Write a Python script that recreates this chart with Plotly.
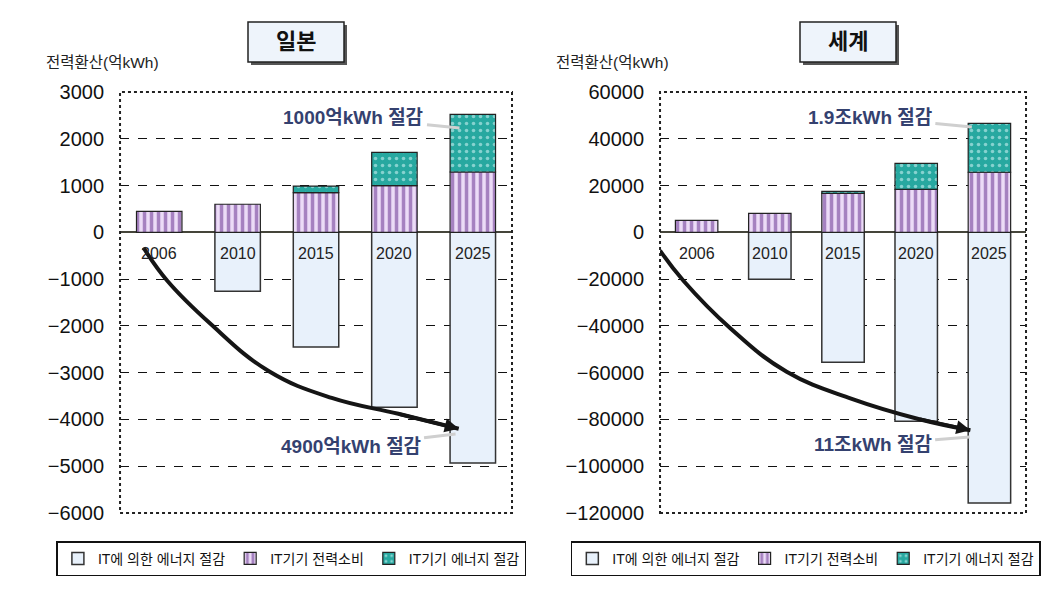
import plotly.graph_objects as go

years = ["2006", "2010", "2015", "2020", "2025"]

# Japan (억kWh)
jp_saving_by_it = [None, -1260, -2450, -3740, -4930]
jp_it_power = [450, 600, 850, 1000, 1290]
jp_it_saving = [None, None, 140, 710, 1230]
jp_curve_x = [-0.2, 0.1, 0.65, 1.4, 2.2, 3.05, 3.82]
jp_curve_y = [-330, -1030, -1950, -2970, -3540, -3880, -4200]

# World (억kWh)
w_saving_by_it = [None, -20100, -55500, -80800, -115700]
w_it_power = [5100, 8100, 16700, 18400, 25700]
w_it_saving = [None, None, 800, 11100, 20900]
w_curve_x = [-0.5, -0.18, 0.46, 1.23, 2.12, 3.03, 3.74]
w_curve_y = [-7800, -20700, -41000, -59600, -71200, -79800, -84600]

jp_ticks = [3000, 2000, 1000, 0, -1000, -2000, -3000, -4000, -5000, -6000]
w_ticks = [60000, 40000, 20000, 0, -20000, -40000, -60000, -80000, -100000, -120000]

names = ["IT에 의한 에너지 절감", "IT기기 전력소비", "IT기기 에너지 절감"]
FONT = "Liberation Sans, Arial, Noto Sans CJK KR"
xs = list(range(len(years)))

fig = go.Figure()

def add_panel(sfx, leg, neg, pos, top, cx, cy):
    xa, ya = "x" + sfx, "y" + sfx
    fig.add_trace(go.Bar(x=xs, y=neg, name=names[0], xaxis=xa, yaxis=ya, legend=leg,
                         width=0.58, marker=dict(color="#e8f1fb", line=dict(color="#333333", width=1.5))))
    fig.add_trace(go.Bar(x=xs, y=pos, name=names[1], xaxis=xa, yaxis=ya, legend=leg,
                         width=0.58, marker=dict(color="#e9d6f5", line=dict(color="#222222", width=1.2),
                                                 pattern=dict(shape="|", fgcolor="#5e2689", bgcolor="#ecdcf7",
                                                              size=7, solidity=0.5))))
    fig.add_trace(go.Bar(x=xs, y=top, name=names[2], xaxis=xa, yaxis=ya, legend=leg,
                         width=0.58, marker=dict(color="#2aa9a2", line=dict(color="#222222", width=1.2),
                                                 pattern=dict(shape=".", fgcolor="#e8fbff", bgcolor="#27a8a0",
                                                              size=7, solidity=0.2))))
    fig.add_trace(go.Scatter(x=cx, y=cy, mode="lines", xaxis=xa, yaxis=ya, showlegend=False,
                             line=dict(color="#151515", width=4, shape="spline", smoothing=1.2),
                             hoverinfo="skip"))
    fig.add_annotation(x=cx[-1], y=cy[-1], ax=cx[-2], ay=cy[-2], xref=xa, yref=ya,
                       axref=xa, ayref=ya, showarrow=True, arrowhead=2, arrowsize=0.8,
                       arrowwidth=3.5, arrowcolor="#151515", text="")
    for i, yr in enumerate(years):
        fig.add_annotation(x=i, y=0, xref=xa, yref=ya, text=yr, showarrow=False,
                           yanchor="top", yshift=-11, font=dict(size=16, color="#222222", family=FONT))

add_panel("", "legend", jp_saving_by_it, jp_it_power, jp_it_saving, jp_curve_x, jp_curve_y)
add_panel("2", "legend2", w_saving_by_it, w_it_power, w_it_saving, w_curve_x, w_curve_y)

# value labels with pointers
labels = [
    ("", "1000억kWh 절감", 3.83, 2230, -106, -11),
    ("", "4900억kWh 절감", 3.78, -4310, -105, 13),
    ("2", "1.9조kWh 절감", 3.76, 45000, -102, -10),
    ("2", "11조kWh 절감", 3.73, -87500, -97, 8),
]
for sfx, txt, x, y, ax, ay in labels:
    fig.add_annotation(x=x, y=y, xref="x" + sfx, yref="y" + sfx, text="<b>" + txt + "</b>",
                       ax=ax, ay=ay, showarrow=True, arrowhead=0, arrowwidth=3,
                       arrowcolor="#cfcfcf", standoff=0, startstandoff=2,
                       font=dict(size=19, color="#34416f", family=FONT))

axis_common = dict(showgrid=True, gridcolor="#111111", griddash="dash", gridwidth=1.3,
                   zeroline=True, zerolinecolor="#45453a", zerolinewidth=2, automargin=False,
                   tickformat="d", ticklabelstandoff=15,
                   tickfont=dict(size=20, color="#111111", family=FONT), ticks="", showline=False)
xcommon = dict(range=[-0.5, 4.5], showticklabels=False, showgrid=False, zeroline=False,
               showline=False, automargin=False)

legend_common = dict(orientation="h", y=0.067, xanchor="center", yanchor="middle",
                     bordercolor="#111111", borderwidth=1.5, bgcolor="white",
                     font=dict(size=14, color="#111111", family=FONT), itemwidth=30, tracegroupgap=0)

fig.update_layout(
    width=1052, height=599, margin=dict(l=0, r=0, t=0, b=0, autoexpand=False),
    paper_bgcolor="white", plot_bgcolor="white", barmode="relative",
    font=dict(family=FONT),
    xaxis=dict(domain=[0.1141, 0.4867], anchor="y", **xcommon),
    yaxis=dict(domain=[0.1436, 0.8464], anchor="x", range=[-6000, 3000], tickvals=jp_ticks, **axis_common),
    xaxis2=dict(domain=[0.6274, 0.9753], anchor="y2", **xcommon),
    yaxis2=dict(domain=[0.1436, 0.8464], anchor="x2", range=[-120000, 60000], tickvals=w_ticks, **axis_common),
    legend=dict(x=0.277, **legend_common),
    legend2=dict(x=0.766, **legend_common),
    showlegend=True,
)

# dotted plot frames
for sfx in ["", "2"]:
    fig.add_shape(type="rect", xref="x" + sfx + " domain", yref="y" + sfx + " domain",
                  x0=0, x1=1, y0=0, y1=1, line=dict(color="#222222", width=2, dash="dot"), layer="above")

# title boxes
for title, cx in [("일본", 296), ("세계", 848)]:
    x0, x1, y0, y1 = (cx - 48) / 1052, (cx + 48) / 1052, 1 - 62 / 599, 1 - 22 / 599
    fig.add_shape(type="rect", xref="paper", yref="paper", x0=x0 + 3 / 1052, x1=x1 + 3 / 1052,
                  y0=y0 - 3 / 599, y1=y1 - 3 / 599, fillcolor="#555555", line=dict(width=0))
    fig.add_shape(type="rect", xref="paper", yref="paper", x0=x0, x1=x1, y0=y0, y1=y1,
                  fillcolor="#eef4fb", line=dict(color="#222222", width=1.5))
    fig.add_annotation(x=cx / 1052, y=1 - 42 / 599, xref="paper", yref="paper", text="<b>" + title + "</b>",
                       xanchor="center", yanchor="middle",
                       showarrow=False, font=dict(size=22, color="#111111", family=FONT))

# y-axis unit titles
for px in [102, 612]:
    fig.add_annotation(x=px / 1052, y=1 - 62 / 599, xref="paper", yref="paper", text="전력환산(억kWh)",
                       xanchor="center", yanchor="middle",
                       showarrow=False, font=dict(size=15.5, color="#222222", family=FONT))

fig.write_html("out.html")
